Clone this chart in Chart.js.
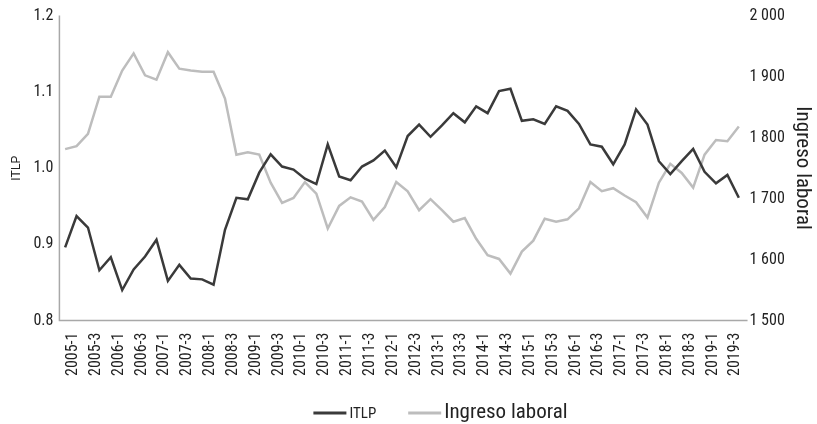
<!DOCTYPE html>
<html>
<head>
<meta charset="utf-8">
<script src="https://cdn.jsdelivr.net/npm/chart.js@4/dist/chart.umd.min.js"></script>
<style>
  html, body { margin: 0; padding: 0; background: #fff; }
  #wrap { width: 817px; height: 424px; }
</style>
</head>
<body>
<div id="wrap"><canvas id="chart" width="817" height="424"></canvas></div>
<script>
// quarters 2005-1 .. 2019-4
const quarters = [
  '2005-1','2005-2','2005-3','2005-4','2006-1','2006-2','2006-3','2006-4',
  '2007-1','2007-2','2007-3','2007-4','2008-1','2008-2','2008-3','2008-4',
  '2009-1','2009-2','2009-3','2009-4','2010-1','2010-2','2010-3','2010-4',
  '2011-1','2011-2','2011-3','2011-4','2012-1','2012-2','2012-3','2012-4',
  '2013-1','2013-2','2013-3','2013-4','2014-1','2014-2','2014-3','2014-4',
  '2015-1','2015-2','2015-3','2015-4','2016-1','2016-2','2016-3','2016-4',
  '2017-1','2017-2','2017-3','2017-4','2018-1','2018-2','2018-3','2018-4',
  '2019-1','2019-2','2019-3','2019-4'
];

const itlp = [
  0.896, 0.937, 0.922, 0.866, 0.883, 0.840, 0.867, 0.884, 0.906, 0.852,
  0.873, 0.855, 0.854, 0.847, 0.919, 0.961, 0.959, 0.994, 1.018, 1.002,
  0.998, 0.986, 0.979, 1.031, 0.989, 0.984, 1.002, 1.010, 1.023, 1.001,
  1.042, 1.057, 1.041, 1.056, 1.072, 1.060, 1.081, 1.072, 1.101, 1.104,
  1.062, 1.064, 1.058, 1.081, 1.075, 1.058, 1.031, 1.028, 1.005, 1.031,
  1.077, 1.057, 1.009, 0.992, 1.009, 1.025, 0.995, 0.980, 0.991, 0.961
];

const ingresoLaboral = [
  1781, 1786, 1806, 1867, 1867, 1910, 1938, 1902, 1895, 1940,
  1913, 1910, 1908, 1908, 1864, 1772, 1776, 1772, 1726, 1693,
  1701, 1727, 1708, 1651, 1688, 1702, 1695, 1665, 1686, 1727,
  1712, 1681, 1699, 1681, 1662, 1668, 1634, 1607, 1601, 1577,
  1613, 1631, 1667, 1662, 1666, 1684, 1727, 1712, 1717, 1705,
  1694, 1669, 1726, 1757, 1742, 1718, 1772, 1796, 1794, 1818
];

const NARROW = "'Liberation Sans Narrow', 'Arial Narrow', 'Roboto Condensed', sans-serif";
const REGULAR = "'Liberation Sans', Arial, sans-serif";
const darkColor = '#3a3a3a';
const lightColor = '#bdbdbd';
const axisColor = '#a8a8a8';
const textColor = '#222222';

// left and bottom axis lines, taken from the scales
const axisLines = {
  id: 'axisLines',
  afterDatasetsDraw(chart) {
    const ctx = chart.ctx;
    const x = chart.scales.x, y = chart.scales.y;
    ctx.save();
    ctx.strokeStyle = axisColor;
    ctx.lineWidth = 1.5;
    ctx.beginPath();
    ctx.moveTo(y.right, y.top);
    ctx.lineTo(y.right, y.bottom);
    ctx.lineTo(x.right + 3, y.bottom);
    ctx.stroke();
    ctx.restore();
  }
};

// legend drawn by hand: each entry has its own font size
const legendSizes = [15, 21];
const bottomLegend = {
  id: 'bottomLegend',
  afterDraw(chart) {
    const ctx = chart.ctx;
    const sets = chart.data.datasets;
    const lineLen = 33, gap = 3, itemGap = 32;
    let widths = [];
    ctx.save();
    sets.forEach((ds, i) => {
      ctx.font = legendSizes[i] + 'px ' + NARROW;
      widths.push(lineLen + gap + ctx.measureText(ds.label).width);
    });
    const total = widths.reduce((a, b) => a + b, 0) + itemGap * (sets.length - 1);
    let x = chart.width / 2 - total / 2 + 32;
    const baseY = chart.height - 6;
    sets.forEach((ds, i) => {
      ctx.strokeStyle = ds.borderColor;
      ctx.lineWidth = 3;
      ctx.beginPath();
      ctx.moveTo(x, baseY - 5);
      ctx.lineTo(x + lineLen, baseY - 5);
      ctx.stroke();
      ctx.font = legendSizes[i] + 'px ' + NARROW;
      ctx.fillStyle = textColor;
      ctx.textBaseline = 'alphabetic';
      ctx.textAlign = 'left';
      ctx.fillText(ds.label, x + lineLen + gap, baseY);
      x += widths[i] + itemGap;
    });
    ctx.restore();
  }
};

function spaceThousands(v) {
  return String(v).replace(/\B(?=(\d{3})+(?!\d))/g, ' ');
}

const config = {
  type: 'line',
  data: {
    labels: quarters,
    datasets: [
      {
        label: 'ITLP',
        data: itlp,
        borderColor: darkColor,
        backgroundColor: darkColor,
        borderWidth: 2.5,
        yAxisID: 'y',
      },
      {
        label: 'Ingreso laboral',
        data: ingresoLaboral,
        borderColor: lightColor,
        backgroundColor: lightColor,
        borderWidth: 2.5,
        yAxisID: 'y1',
      }
    ]
  },
  options: {
    responsive: false,
    animation: false,
    elements: {
      point: { radius: 0 },
      line: { tension: 0, borderJoinStyle: 'miter' }
    },
    layout: {
      padding: { top: 7, left: 9, right: 0, bottom: 36 }
    },
    plugins: {
      legend: { display: false },
      tooltip: { enabled: false }
    },
    scales: {
      x: {
        offset: true,
        grid: { display: false, drawTicks: false },
        border: { display: false },
        ticks: {
          autoSkip: false,
          maxRotation: 90,
          minRotation: 90,
          padding: 12,
          labelOffset: 8,
          color: textColor,
          font: { family: NARROW, size: 16 },
          callback: function (value, index) {
            return index % 2 === 0 ? this.getLabelForValue(value) : '';
          }
        }
      },
      y: {
        position: 'left',
        min: 0.8,
        max: 1.2,
        grid: { display: false, drawTicks: false },
        border: { display: false },
        title: {
          display: true,
          text: 'ITLP',
          color: textColor,
          font: { family: REGULAR, size: 12 },
          padding: { top: 0, bottom: 4 }
        },
        ticks: {
          stepSize: 0.1,
          padding: 6,
          color: textColor,
          font: { family: NARROW, size: 16 },
          callback: v => v.toFixed(1)
        }
      },
      y1: {
        position: 'right',
        min: 1500,
        max: 2000,
        grid: { display: false, drawTicks: false },
        border: { display: false },
        title: {
          display: true,
          text: 'Ingreso laboral',
          color: textColor,
          font: { family: NARROW, size: 21 },
          padding: { top: 2, bottom: 0 }
        },
        ticks: {
          stepSize: 100,
          padding: 5,
          color: textColor,
          font: { family: NARROW, size: 16 },
          callback: v => spaceThousands(v)
        }
      }
    }
  },
  plugins: [axisLines, bottomLegend]
};

new Chart(document.getElementById('chart'), config);
</script>
</body>
</html>
